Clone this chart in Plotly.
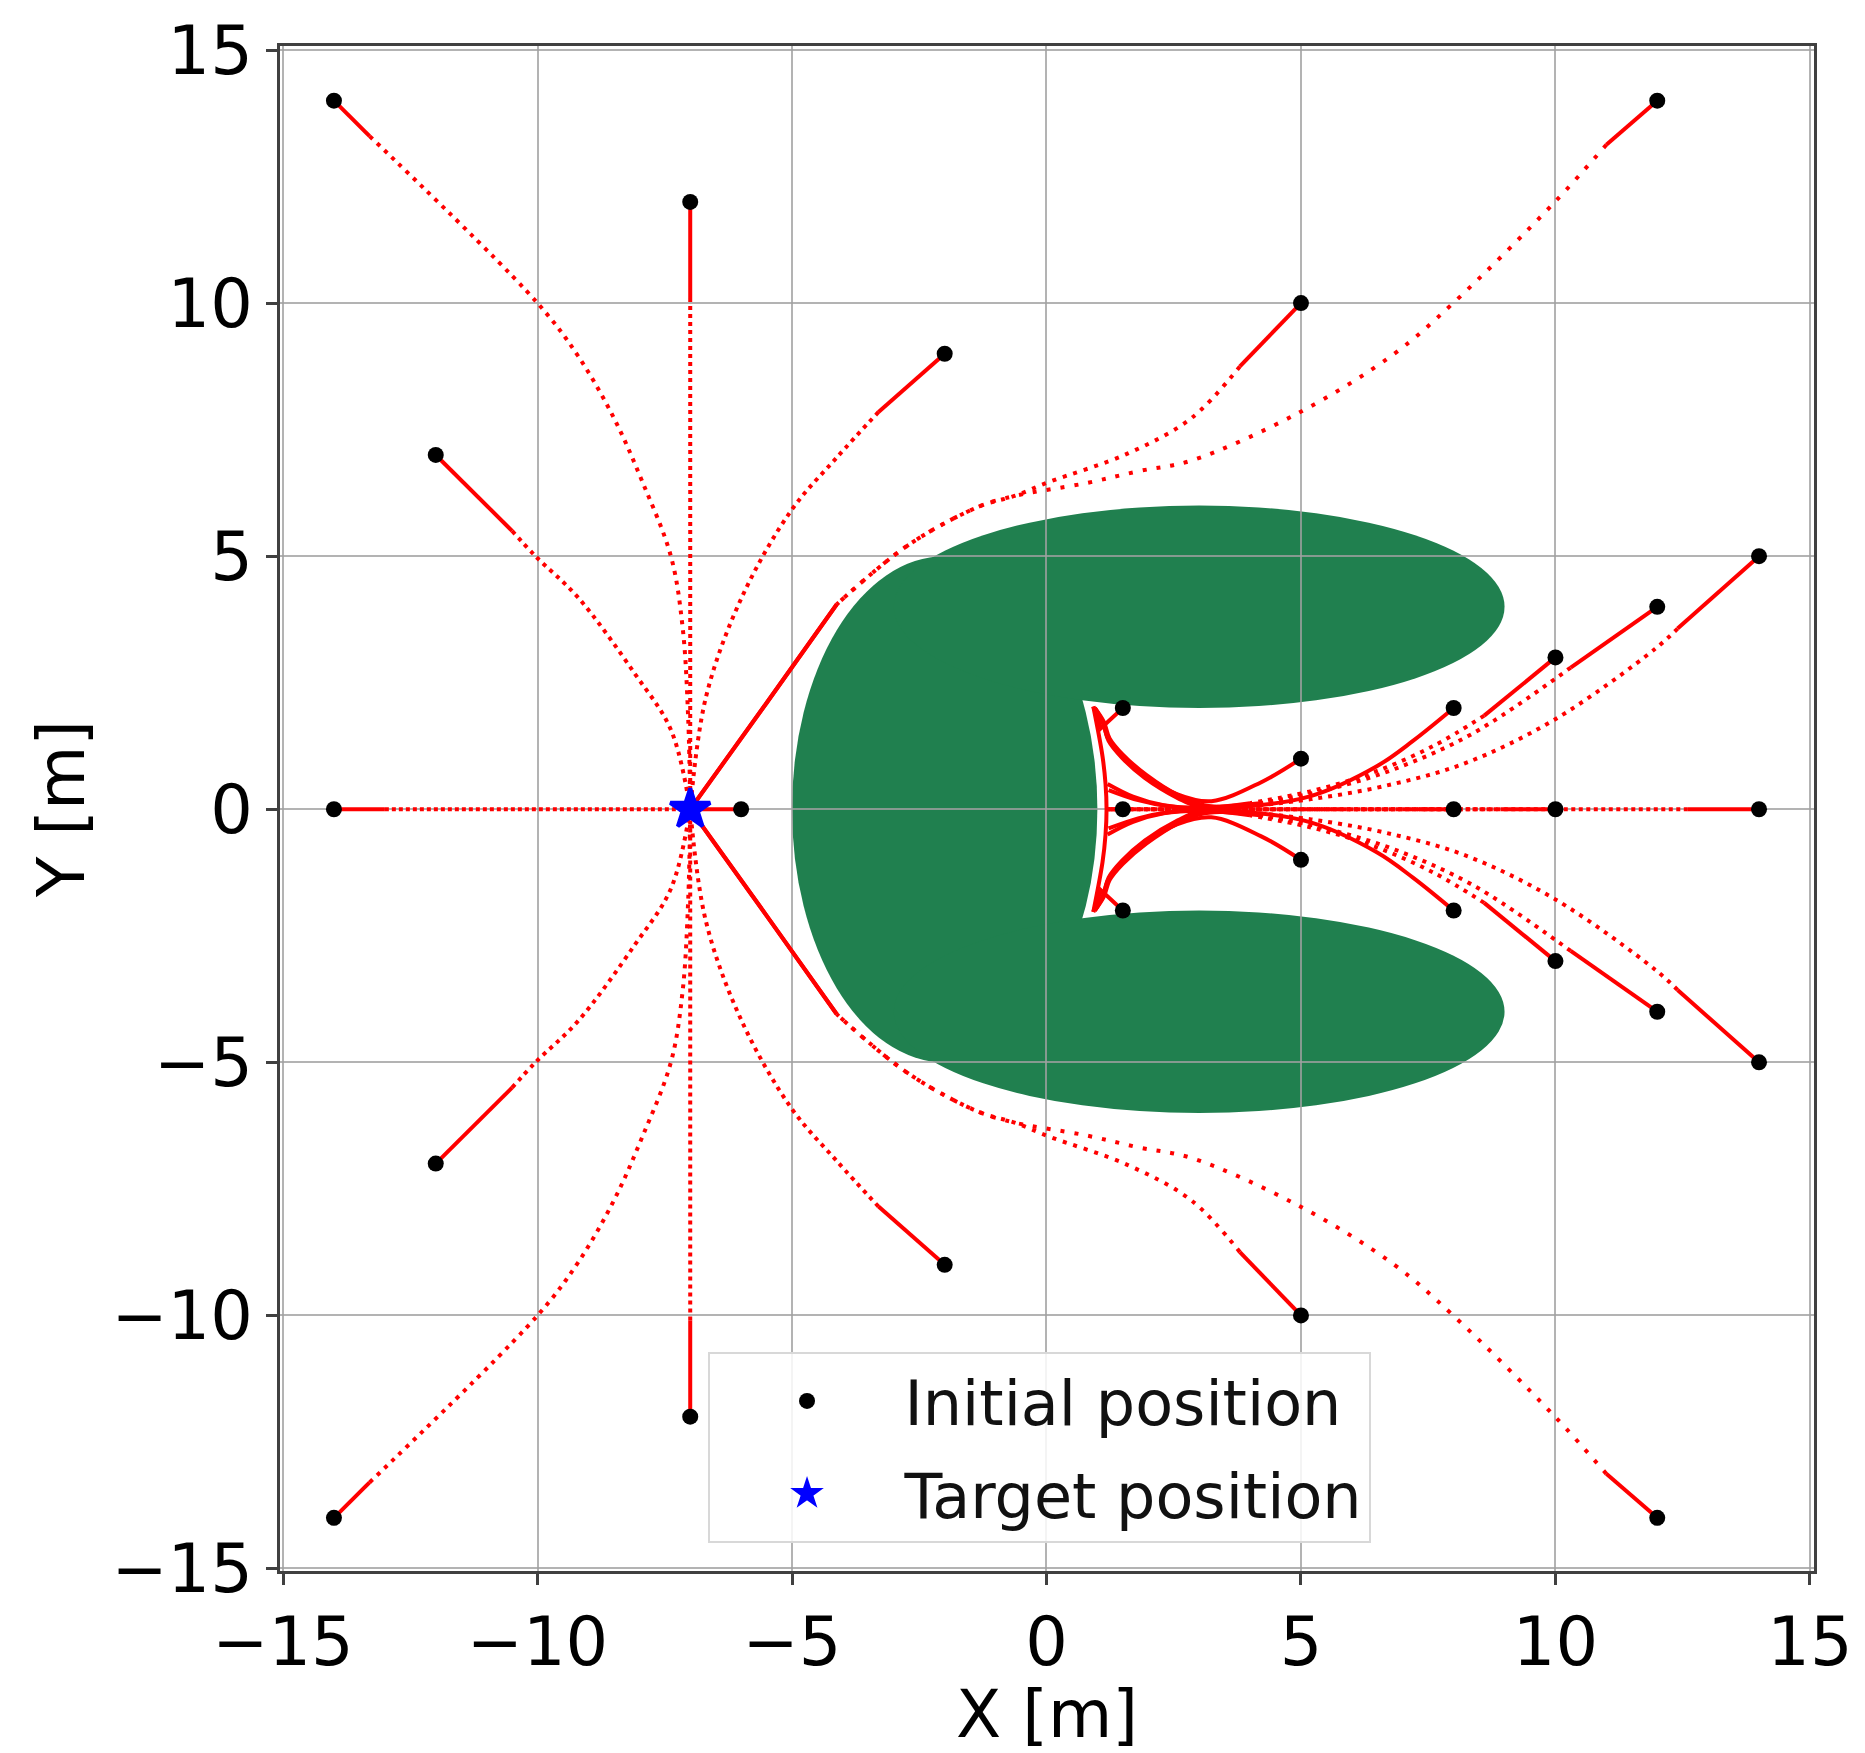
import plotly.graph_objects as go

# ---------------- data ----------------
TARGET_X = [-7.0]
TARGET_Y = [0.0]

START_X = [-14, -7, -12, -2, -14, -6, -14, -7, -12, -2, 5, 12, 5, 12,
           14, 12, 10, 8, 5, 1.5, 14, 12, 10, 8, 5, 1.5, 14, 10, 8, 1.5]
START_Y = [14, 12, 7, 9, 0, 0, -14, -12, -7, -9, 10, 14, -10, -14,
           5, 4, 3, 2, 1, 2, -5, -4, -3, -2, -1, -2, 0, 0, 0, 0]

# obstacle = union of three ellipses (centre x, centre y, semi-axis x, semi-axis y)
OBST_CX = [-2.0, 3.0, 3.0]
OBST_CY = [0.0, 4.0, -4.0]
OBST_RX = [3.0, 6.0, 6.0]
OBST_RY = [5.0, 2.0, 2.0]

# trajectories (way-points)
T01_X = [-14, -13.3, -10.0, -9.2, -8.5, -7.94, -7.38, -7.15, -7.04, -7.0]
T01_Y = [14, 13.3, 10.0, 8.95, 7.73, 6.47, 5.0, 3.6, 1.8, 0.0]
T02_X = [-7, -7, -7]
T02_Y = [12, 10.1, 0]
T03_X = [-12, -10.5, -10.04, -9.2, -8.09, -7.38, -7.0]
T03_Y = [7, 5.5, 5.0, 4.18, 2.68, 1.57, 0]
T04_X = [-2, -3.3, -4.12, -5.01, -5.99, -6.69, -7.0]
T04_Y = [9, 7.85, 6.95, 5.91, 4.18, 2.22, 0]
T05_X = [-14, -13.0, -7]
T05_Y = [0, 0, 0]
T06_X = [-6, -7]
T06_Y = [0, 0]
T07_X = [-14, -13.3, -10.0, -9.2, -8.5, -7.94, -7.38, -7.15, -7.04, -7.0]
T07_Y = [-14, -13.3, -10.0, -8.95, -7.73, -6.47, -5.0, -3.6, -1.8, 0.0]
T08_X = [-7, -7, -7]
T08_Y = [-12, -10.1, 0]
T09_X = [-12, -10.5, -10.04, -9.2, -8.09, -7.38, -7.0]
T09_Y = [-7, -5.5, -5.0, -4.18, -2.68, -1.57, 0]
T10_X = [-2, -3.3, -4.12, -5.01, -5.99, -6.69, -7.0]
T10_Y = [-9, -7.85, -6.95, -5.91, -4.18, -2.22, 0]
T11_X = [5, 3.8, 2.85, 1.6, 0.06, -0.63, -1.33, -2.73, -4.12, -5.5, -7.0]
T11_Y = [10, 8.75, 7.73, 7.03, 6.47, 6.19, 5.98, 5.21, 4.05, 2.1, 0]
T12_X = [12, 11.0, 9.98, 7.99, 6.82, 4.95, 2.85, 1.81, 0.76, -0.63, -1.33, -2.73, -4.12, -5.5, -7]
T12_Y = [14, 13.13, 11.99, 10.0, 8.99, 7.83, 6.89, 6.68, 6.44, 6.19, 5.98, 5.21, 4.05, 2.1, 0]
T13_X = [5, 3.8, 2.85, 1.6, 0.06, -0.63, -1.33, -2.73, -4.12, -5.5, -7.0]
T13_Y = [-10, -8.75, -7.73, -7.03, -6.47, -6.19, -5.98, -5.21, -4.05, -2.1, 0]
T14_X = [12, 11.0, 9.98, 7.99, 6.82, 4.95, 2.85, 1.81, 0.76, -0.63, -1.33, -2.73, -4.12, -5.5, -7]
T14_Y = [-14, -13.13, -11.99, -10.0, -8.99, -7.83, -6.89, -6.68, -6.44, -6.19, -5.98, -5.21, -4.05, -2.1, 0]
T15_X = [14, 12.4, 11.96, 9.98, 8.2, 6.6, 5.2, 4.0, 3.0, 2.4, 1.8, 1.22]
T15_Y = [5, 3.57, 3.17, 1.77, 0.9, 0.45, 0.2, 0.06, 0.02, 0.06, 0.18, 0.38]
T16_X = [12, 10.3, 8.38, 6.8, 5.4, 4.2, 3.0, 2.3, 1.7, 1.2]
T16_Y = [4, 2.8, 1.5, 0.78, 0.36, 0.12, 0.03, 0.08, 0.25, 0.5]
T17_X = [10, 8.6, 7.6, 6.4, 5.2, 4.0, 3.0, 2.58, 1.93, 1.48, 1.22, 1.12, 0.95]
T17_Y = [3, 1.85, 1.25, 0.72, 0.36, 0.12, 0.05, 0.22, 0.62, 1.02, 1.35, 1.68, 2.0]
T18_X = [8, 7.2, 6.49, 5.19, 3.89, 3.1, 2.6, 1.96, 1.5, 1.24, 1.13, 0.95]
T18_Y = [2, 1.35, 0.85, 0.26, 0.06, 0.08, 0.27, 0.68, 1.08, 1.4, 1.72, 2.0]
T19_X = [5, 4.21, 3.24, 2.56, 1.9, 1.45, 1.2, 1.1, 0.95]
T19_Y = [1, 0.53, 0.16, 0.3, 0.7, 1.1, 1.42, 1.74, 2.0]
T20_X = [1.5, 1.07, 0.92]
T20_Y = [2, 1.6, 2.03]
T21_X = [14, 12.4, 11.96, 9.98, 8.2, 6.6, 5.2, 4.0, 3.0, 2.4, 1.8, 1.22]
T21_Y = [-5, -3.57, -3.17, -1.77, -0.9, -0.45, -0.2, -0.06, -0.02, -0.06, -0.18, -0.38]
T22_X = [12, 10.3, 8.38, 6.8, 5.4, 4.2, 3.0, 2.3, 1.7, 1.2]
T22_Y = [-4, -2.8, -1.5, -0.78, -0.36, -0.12, -0.03, -0.08, -0.25, -0.5]
T23_X = [10, 8.6, 7.6, 6.4, 5.2, 4.0, 3.0, 2.58, 1.93, 1.48, 1.22, 1.12, 0.95]
T23_Y = [-3, -1.85, -1.25, -0.72, -0.36, -0.12, -0.05, -0.22, -0.62, -1.02, -1.35, -1.68, -2.0]
T24_X = [8, 7.2, 6.49, 5.19, 3.89, 3.1, 2.6, 1.96, 1.5, 1.24, 1.13, 0.95]
T24_Y = [-2, -1.35, -0.85, -0.26, -0.06, -0.08, -0.27, -0.68, -1.08, -1.4, -1.72, -2.0]
T25_X = [5, 4.21, 3.24, 2.56, 1.9, 1.45, 1.2, 1.1, 0.95]
T25_Y = [-1, -0.53, -0.16, -0.3, -0.7, -1.1, -1.42, -1.74, -2.0]
T26_X = [1.5, 1.07, 0.92]
T26_Y = [-2, -1.6, -2.03]
T27_X = [14, 12.6, 1.18]
T27_Y = [0, 0, 0]
T28_X = [10, 9.0, 1.18]
T28_Y = [0, 0, 0]
T29_X = [8, 7.4, 1.18]
T29_Y = [0, 0, 0]
T30_X = [1.5, 1.18]
T30_Y = [0, 0]
WALL_X = [0.92, 1.10, 1.16, 1.18, 1.16, 1.10, 0.92]
WALL_Y = [2.03, 1.05, 0.5, 0.0, -0.5, -1.05, -2.03]

TICK_VALS = [-15, -10, -5, 0, 5, 10, 15]
TICK_TEXT = ["\u221215", "\u221210", "\u22125", "0", "5", "10", "15"]

# ---------------- styles (solid head end index, solid tail start index, dot gap px, shape) -------------
TRAJS = [
    (T01_X, T01_Y, 1, None, 6, "spline"),
    (T02_X, T02_Y, 1, None, 4, "linear"),
    (T03_X, T03_Y, 1, None, 5, "spline"),
    (T04_X, T04_Y, 1, None, 5, "spline"),
    (T05_X, T05_Y, 1, None, 3, "linear"),
    (T06_X, T06_Y, None, None, 0, "linear"),
    (T07_X, T07_Y, 1, None, 6, "spline"),
    (T08_X, T08_Y, 1, None, 4, "linear"),
    (T09_X, T09_Y, 1, None, 5, "spline"),
    (T10_X, T10_Y, 1, None, 5, "spline"),
    (T11_X, T11_Y, 1, 8, 7, "spline"),
    (T12_X, T12_Y, 1, 12, 10, "spline"),
    (T13_X, T13_Y, 1, 8, 7, "spline"),
    (T14_X, T14_Y, 1, 12, 10, "spline"),
    (T15_X, T15_Y, 1, 7, 6, "spline"),
    (T16_X, T16_Y, 1, 5, 6, "spline"),
    (T17_X, T17_Y, 1, 5, 6, "spline"),
    (T18_X, T18_Y, None, None, 0, "spline"),
    (T19_X, T19_Y, None, None, 0, "spline"),
    (T20_X, T20_Y, None, None, 0, "linear"),
    (T21_X, T21_Y, 1, 7, 6, "spline"),
    (T22_X, T22_Y, 1, 5, 6, "spline"),
    (T23_X, T23_Y, 1, 5, 6, "spline"),
    (T24_X, T24_Y, None, None, 0, "spline"),
    (T25_X, T25_Y, None, None, 0, "spline"),
    (T26_X, T26_Y, None, None, 0, "linear"),
    (T27_X, T27_Y, 1, None, 3.5, "linear"),
    (T28_X, T28_Y, 1, None, 3, "linear"),
    (T29_X, T29_Y, 1, None, 3, "linear"),
    (T30_X, T30_Y, None, None, 0, "linear"),
    (WALL_X, WALL_Y, None, None, 0, "spline"),
]

RED = "#ff0000"
GREEN = "#20804f"
LW = 4
FONT = "DejaVu Sans"

fig = go.Figure()

# obstacle (drawn below the grid)
for cx, cy, rx, ry in zip(OBST_CX, OBST_CY, OBST_RX, OBST_RY):
    fig.add_shape(type="circle", xref="x", yref="y",
                  x0=cx - rx, x1=cx + rx, y0=cy - ry, y1=cy + ry,
                  fillcolor=GREEN, line=dict(width=0), layer="below")

def add_seg(xs, ys, dash, shape):
    fig.add_trace(go.Scatter(x=xs, y=ys, mode="lines",
                             line=dict(color=RED, width=LW, dash=dash, shape=shape),
                             showlegend=False, hoverinfo="skip"))

for xs, ys, head, tail, gap, shape in TRAJS:
    n = len(xs)
    if head is None:
        add_seg(xs, ys, "solid", shape)
        continue
    t = n - 1 if tail is None else tail
    add_seg(xs[:head + 1], ys[:head + 1], "solid", shape)
    add_seg(xs[head:t + 1], ys[head:t + 1], "4px,%spx" % gap, shape)
    if t < n - 1:
        add_seg(xs[t:], ys[t:], "solid", shape)

fig.add_trace(go.Scatter(x=START_X, y=START_Y, mode="markers", name="Initial position",
                         legendgroup="a",
                         marker=dict(color="black", size=16, line=dict(width=0))))
fig.add_trace(go.Scatter(x=TARGET_X, y=TARGET_Y, mode="markers", name="Target position",
                         legendgroup="b",
                         marker=dict(color="#0000ff", symbol="star", size=30,
                                     line=dict(color="#0000ff", width=4))))

axis_common = dict(
    tickvals=TICK_VALS, ticktext=TICK_TEXT,
    showgrid=True, gridcolor="rgba(160,160,160,0.8)", gridwidth=2.4,
    zeroline=False, showline=True, mirror=True, linecolor="#404040", linewidth=2.5,
    ticks="outside", ticklen=11, tickwidth=2.5, tickcolor="#404040",
    tickfont=dict(family=FONT, size=67, color="black"),
    title_font=dict(family=FONT, size=66, color="black"),
)

fig.update_layout(
    width=1865, height=1753,
    margin=dict(l=280, r=42, t=43, b=170),
    paper_bgcolor="white", plot_bgcolor="white",
    font=dict(family=FONT, color="black"),
    xaxis=dict(range=[-15.06, 15.08], title=dict(text="X [m]", standoff=14), **axis_common),
    yaxis=dict(range=[-15.05, 15.08], title=dict(text="Y [m]", standoff=6), **axis_common),
    legend=dict(x=0.2787, y=0.1435, xanchor="left", yanchor="top",
                bgcolor="rgba(255,255,255,0.85)", bordercolor="#d8d8d8", borderwidth=2,
                font=dict(family=FONT, size=62, color="#111111"),
                itemwidth=185, traceorder="grouped", tracegroupgap=9),
    showlegend=True,
)

fig.write_html("out.html")
